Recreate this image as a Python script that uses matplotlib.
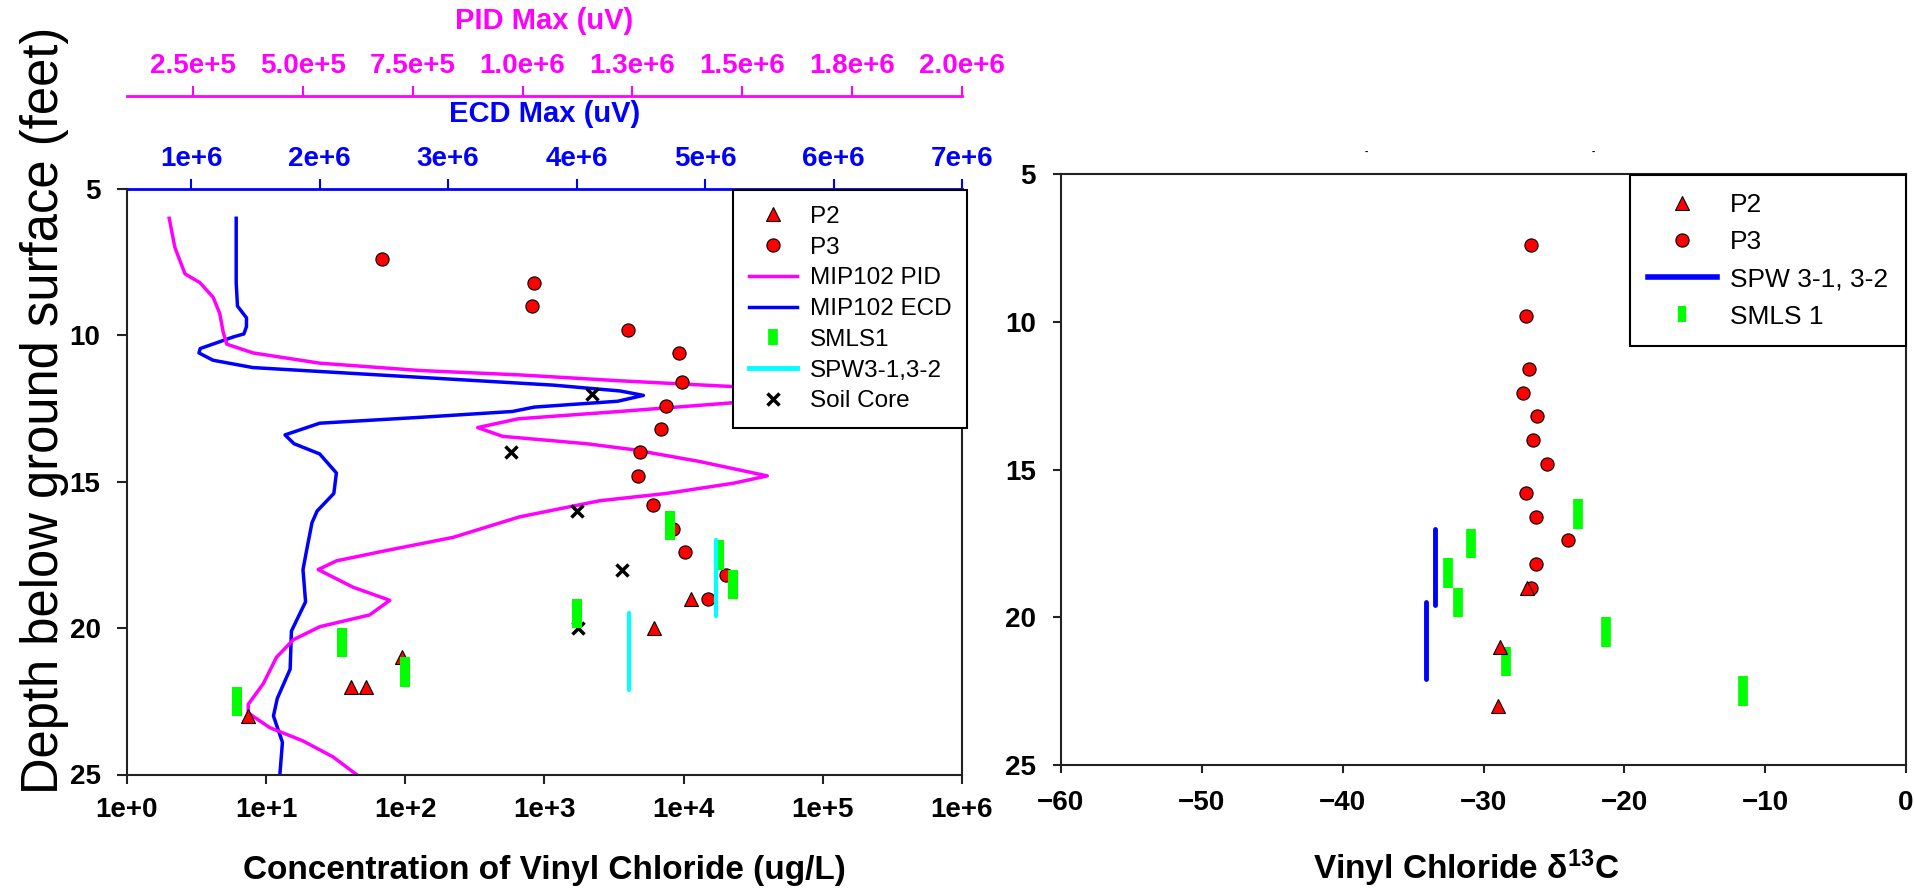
import matplotlib
matplotlib.use('Agg')
import matplotlib.pyplot as plt
from matplotlib.lines import Line2D
from matplotlib.ticker import NullLocator

plt.rcParams['font.family'] = ['Liberation Sans', 'DejaVu Sans']
plt.rcParams['font.weight'] = 'bold'
plt.rcParams['axes.labelweight'] = 'bold'
plt.rcParams['mathtext.fontset'] = 'custom'
plt.rcParams['mathtext.rm'] = 'Liberation Sans:bold'
plt.rcParams['mathtext.it'] = 'Liberation Sans:bold'
plt.rcParams['mathtext.bf'] = 'Liberation Sans:bold'

# ---- dane: lewy wykres (stezenie VC) ----
p2_conc = [7.4, 41, 52, 95, 11200, 6080]
p2_depth = [23.0, 22.0, 22.0, 21.0, 19.0, 20.0]

p3_conc = [68, 835, 816, 3975, 9190, 9700, 7480, 6890, 4870, 4665, 6010, 8360, 10250, 20300, 14900]
p3_depth = [7.4, 8.2, 9.0, 9.8, 10.6, 11.6, 12.4, 13.2, 14.0, 14.8, 15.8, 16.6, 17.4, 18.2, 19.0]

smls_conc = [6.2, 35, 100, 1720, 7950, 17800, 22700]
smls_top = [22, 20, 21, 19, 16, 17, 18]
smls_bot = [23, 21, 22, 20, 17, 18, 19]

spw_conc = [4020, 17000]
spw_top = [19.5, 17.0]
spw_bot = [22.1, 19.6]

soil_conc = [2200, 575, 1700, 3600, 1750]
soil_depth = [12, 14, 16, 18, 20]

# MIP102 - ECD
ecd_depth = [6.0, 8.2, 9.0, 9.4, 9.7, 9.95, 10.05, 10.45, 10.6, 10.85,
             11.1, 11.3, 11.5, 11.7, 11.9, 12.05, 12.25, 12.45, 12.6, 12.8,
             13.0, 13.4, 13.7, 14.05, 14.7, 15.4, 16.0, 16.4, 17.3, 18.0,
             19.1, 20.1, 21.4, 22.4, 23.0, 23.9, 25.0]
ecd_max = [1.35e6, 1.35e6, 1.36e6, 1.43e6, 1.43e6, 1.41e6, 1.33e6, 1.07e6, 1.06e6, 1.17e6,
           1.48e6, 2.26e6, 3.04e6, 3.82e6, 4.34e6, 4.52e6, 4.32e6, 3.67e6, 3.5e6, 2.78e6,
           2.0e6, 1.73e6, 1.8e6, 2.0e6, 2.13e6, 2.11e6, 1.98e6, 1.94e6, 1.9e6, 1.87e6,
           1.89e6, 1.78e6, 1.77e6, 1.67e6, 1.64e6, 1.71e6, 1.69e6]

# MIP102 - PID
pid_depth = [6.0, 7.0, 7.9, 8.2, 8.7, 9.25, 9.9, 10.3, 10.6, 10.95,
             11.2, 11.35, 11.55, 11.75, 12.0, 12.3, 12.6, 12.85, 13.15, 13.45,
             13.7, 13.9, 14.3, 14.8, 15.05, 15.4, 15.65, 16.2, 16.9, 17.35,
             17.7, 18.0, 18.6, 19.05, 19.55, 19.95, 20.4, 21.0, 21.9, 22.6,
             22.9, 23.4, 23.85, 24.4, 25.0]
pid_max = [1.96e5, 2.09e5, 2.32e5, 2.66e5, 2.96e5, 3.11e5, 3.19e5, 3.27e5, 3.87e5, 5.39e5,
           7.66e5, 9.93e5, 1.22e6, 1.48e6, 1.56e6, 1.48e6, 1.22e6, 9.9e5, 8.98e5, 9.55e5,
           1.145e6, 1.25e6, 1.4e6, 1.557e6, 1.48e6, 1.327e6, 1.175e6, 9.93e5, 8.42e5, 6.9e5,
           5.77e5, 5.35e5, 6.14e5, 6.98e5, 6.52e5, 5.39e5, 4.78e5, 4.4e5, 4.1e5, 3.76e5,
           3.76e5, 4.25e5, 5.0e5, 5.69e5, 6.22e5]

conc_ticks = [1e0, 1e1, 1e2, 1e3, 1e4, 1e5, 1e6]
conc_labels = ['1e+0', '1e+1', '1e+2', '1e+3', '1e+4', '1e+5', '1e+6']
ecd_ticks = [1e6, 2e6, 3e6, 4e6, 5e6, 6e6, 7e6]
ecd_labels = ['1e+6', '2e+6', '3e+6', '4e+6', '5e+6', '6e+6', '7e+6']
pid_ticks = [2.5e5, 5e5, 7.5e5, 1e6, 1.25e6, 1.5e6, 1.75e6, 2e6]
pid_labels = ['2.5e+5', '5.0e+5', '7.5e+5', '1.0e+6', '1.3e+6', '1.5e+6', '1.8e+6', '2.0e+6']
depth_ticks = [5, 10, 15, 20, 25]

# ---- dane: prawy wykres (delta 13C) ----
p2_d13c = [-26.9, -28.8, -29.0]
p2_d13c_depth = [19.0, 21.0, 23.0]

p3_d13c = [-26.6, -26.95, -26.8, -27.2, -26.2, -26.45, -25.5, -26.95, -26.3, -24.0, -26.24, -26.6]
p3_d13c_depth = [7.4, 9.8, 11.6, 12.4, 13.2, 14.0, 14.8, 15.8, 16.6, 17.4, 18.2, 19.0]

spw_d13c = [-33.45, -34.1]
spw_d13c_top = [17.0, 19.5]
spw_d13c_bot = [19.6, 22.1]

smls_d13c = [-23.3, -30.9, -32.5, -31.8, -21.3, -28.4, -11.6]
smls_d13c_top = [16, 17, 18, 19, 20, 21, 22]
smls_d13c_bot = [17, 18, 19, 20, 21, 22, 23]

d13c_ticks = [-60, -50, -40, -30, -20, -10, 0]

W, H = 1915, 890


def box(x0, y0, x1, y1):
    return [x0 / W, 1 - y1 / H, (x1 - x0) / W, (y1 - y0) / H]


fig = plt.figure(figsize=(W / 100, H / 100), dpi=100)

RED = '#ff0000'
GREEN = '#00ff00'
CYAN = '#00ffff'
BLUE = '#0000ff'
MAG = '#ff00ff'
SPINE = '#222222'

############# LEWY WYKRES #############
ax = fig.add_axes(box(127, 189, 962, 774.5))
ax_ecd = ax.twiny()
ax_pid = ax.twiny()

# punkty na wierzchu krzywych
ax.set_zorder(5)
ax.patch.set_visible(False)

ax_pid.plot(pid_max, pid_depth, color=MAG, lw=2.5)
ax_ecd.plot(ecd_max, ecd_depth, color=BLUE, lw=2.5)

ax.plot(p3_conc, p3_depth, 'o', ms=9.5, mfc=RED, mec='black', mew=0.8)
ax.plot(p2_conc, p2_depth, '^', ms=10, mfc=RED, mec='black', mew=0.8)
ax.plot(soil_conc, soil_depth, 'x', ms=9, color='black', mew=2.5)
ax.vlines(smls_conc, smls_top, smls_bot, colors=GREEN, linewidth=7.2, capstyle='butt')
ax.vlines(spw_conc, spw_top, spw_bot, colors=CYAN, linewidth=3, capstyle='round')

ax.set_xscale('log')
ax.set_xlim(1, 1e6)
ax.set_ylim(25, 5)
ax.set_xticks(conc_ticks)
ax.set_xticklabels(conc_labels)
ax.xaxis.set_minor_locator(NullLocator())
ax.set_yticks(depth_ticks)
ax.tick_params(axis='x', direction='out', length=6.5, width=1.5, labelsize=20, pad=10, color=SPINE)
ax.tick_params(axis='y', direction='out', length=7, width=1.5, labelsize=20, pad=12, color=SPINE)
ax.spines['top'].set_visible(False)
for s in ['left', 'bottom', 'right']:
    ax.spines[s].set_color(SPINE)
    ax.spines[s].set_linewidth(1.5)
ax.set_xlabel('Concentration of Vinyl Chloride (ug/L)', fontsize=24, fontweight='bold')
ax.xaxis.set_label_coords(0.5, (774.5 - 870) / 585.5)
ax.xaxis.label.set_verticalalignment('center')

# os ECD
ax_ecd.set_xlim(5e5, 7e6)
ax_ecd.set_xticks(ecd_ticks)
ax_ecd.set_xticklabels(ecd_labels)
ax_ecd.tick_params(axis='x', colors=BLUE, direction='out', length=7, width=1.5, labelsize=20, pad=5)
for s in ['left', 'bottom', 'right']:
    ax_ecd.spines[s].set_visible(False)
ax_ecd.spines['top'].set_color(BLUE)
ax_ecd.spines['top'].set_linewidth(2)
ax_ecd.set_xlabel('ECD Max (uV)', color=BLUE, fontsize=21, fontweight='bold')
ax_ecd.xaxis.set_label_coords(0.5, (774.5 - 114) / 585.5)
ax_ecd.xaxis.label.set_verticalalignment('center')

# os PID
ax_pid.set_xlim(1e5, 2e6)
ax_pid.set_xticks(pid_ticks)
ax_pid.set_xticklabels(pid_labels)
ax_pid.tick_params(axis='x', colors=MAG, direction='out', length=7, width=1.5, labelsize=20, pad=5)
for s in ['left', 'bottom', 'right']:
    ax_pid.spines[s].set_visible(False)
ax_pid.spines['top'].set_position(('outward', 93.3 * 0.72))
ax_pid.spines['top'].set_color(MAG)
ax_pid.spines['top'].set_linewidth(2)
ax_pid.set_xlabel('PID Max (uV)', color=MAG, fontsize=21, fontweight='bold')
ax_pid.xaxis.set_label_coords(0.5, (774.5 - 21) / 585.5)
ax_pid.xaxis.label.set_verticalalignment('center')

fig.text(45 / W, 1 - 410 / H, 'Depth below ground surface (feet)', rotation=90,
         ha='center', va='center', fontsize=36.5, fontweight='normal')

uchwyty = [
    Line2D([], [], ls='none', marker='^', ms=10, mfc=RED, mec='black', mew=0.8),
    Line2D([], [], ls='none', marker='o', ms=9.5, mfc=RED, mec='black', mew=0.8),
    Line2D([], [], color=MAG, lw=2.5),
    Line2D([], [], color=BLUE, lw=2.5),
    Line2D([], [], ls='none', marker='|', ms=12, mec=GREEN, mew=7),
    Line2D([], [], color=CYAN, lw=3.5),
    Line2D([], [], ls='none', marker='x', ms=9, color='black', mew=2.5),
]
etykiety = ['P2', 'P3', 'MIP102 PID', 'MIP102 ECD', 'SMLS1', 'SPW3-1,3-2', 'Soil Core']
leg = fig.legend(uchwyty, etykiety, loc='upper left', bbox_to_anchor=(733 / W, 1 - 190 / H),
                 prop={'size': 17.5, 'weight': 'normal'}, frameon=True, fancybox=False,
                 framealpha=1, edgecolor='black', borderaxespad=0, borderpad=0.65,
                 labelspacing=0.36, handlelength=2.0, handletextpad=0.5)
leg.get_frame().set_linewidth(1.5)

############# PRAWY WYKRES #############
ax2 = fig.add_axes(box(1061, 174, 1906, 765))
ax2.vlines(spw_d13c, spw_d13c_top, spw_d13c_bot, colors=BLUE, linewidth=3.5, capstyle='round')
ax2.vlines(smls_d13c, smls_d13c_top, smls_d13c_bot, colors=GREEN, linewidth=7, capstyle='butt')
ax2.plot(p3_d13c, p3_d13c_depth, 'o', ms=9.5, mfc=RED, mec='black', mew=0.8)
ax2.plot(p2_d13c, p2_d13c_depth, '^', ms=10, mfc=RED, mec='black', mew=0.8)
ax2.set_xlim(-60, 0)
ax2.set_ylim(25, 5)
ax2.set_xticks(d13c_ticks)
ax2.set_yticks(depth_ticks)
ax2.tick_params(axis='x', direction='out', length=6, width=1.5, labelsize=20, pad=12, color=SPINE)
ax2.tick_params(axis='y', direction='out', length=6, width=1.5, labelsize=20, pad=12, color=SPINE)
for s in ax2.spines.values():
    s.set_color(SPINE)
    s.set_linewidth(1.5)
ax2.set_xlabel(r'Vinyl Chloride $\mathrm{\delta^{13}}$C', fontsize=24, fontweight='bold')
ax2.xaxis.set_label_coords(0.48, (765 - 868) / 591)
ax2.xaxis.label.set_verticalalignment('center')

fig.text(1365 / W, 1 - 155 / H, '-', fontsize=7)
fig.text(1592 / W, 1 - 155 / H, '-', fontsize=7)

uchwyty2 = [
    Line2D([], [], ls='none', marker='^', ms=10, mfc=RED, mec='black', mew=0.8),
    Line2D([], [], ls='none', marker='o', ms=9.5, mfc=RED, mec='black', mew=0.8),
    Line2D([], [], color=BLUE, lw=4),
    Line2D([], [], ls='none', marker='|', ms=11, mec=GREEN, mew=6),
]
etykiety2 = ['P2', 'P3', 'SPW 3-1, 3-2', 'SMLS 1']
leg2 = fig.legend(uchwyty2, etykiety2, loc='upper right', bbox_to_anchor=(1906 / W, 1 - 175 / H),
                  prop={'size': 19, 'weight': 'normal'}, frameon=True, fancybox=False,
                  framealpha=1, edgecolor='black', borderaxespad=0, borderpad=0.68,
                  labelspacing=0.5, handlelength=2.6, handletextpad=0.5)
leg2.get_frame().set_linewidth(1.5)

fig.savefig('out.png', dpi=100)
